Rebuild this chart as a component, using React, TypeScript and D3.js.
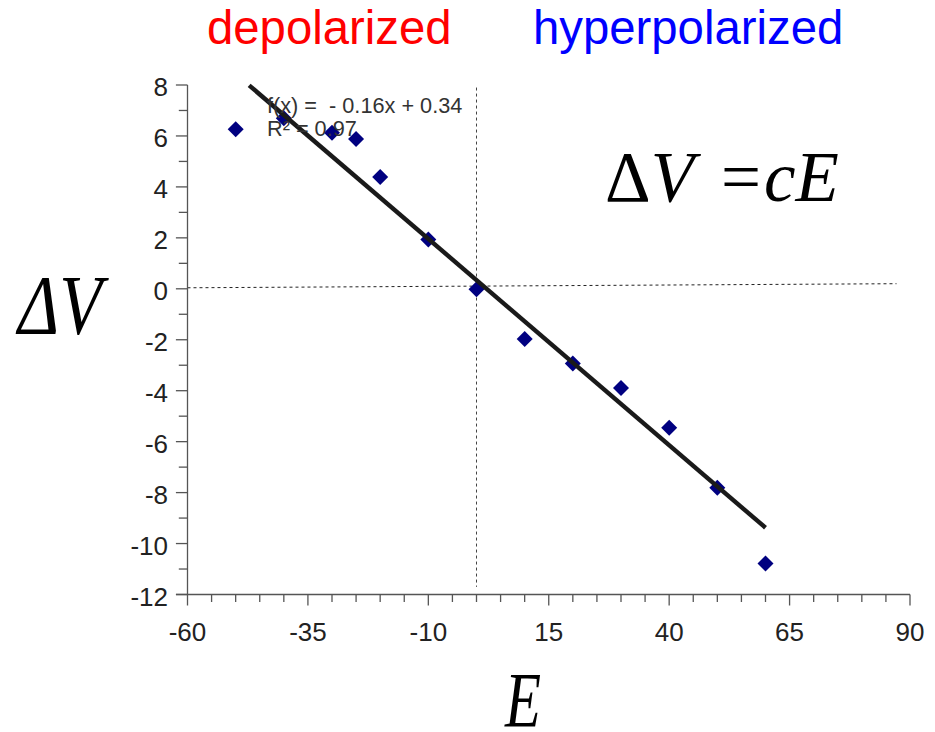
import React, { useEffect } from "react";
import * as d3 from "d3";

// ---- data ----
const membraneE = [-50, -40, -30, -25, -20, -10, 0, 10, 20, 30, 40, 50, 60];
const deltaV = [6.26, 6.69, 6.13, 5.88, 4.39, 1.94, -0.02, -1.97, -2.93, -3.89, -5.45, -7.81, -10.78];
const trendSlope = -0.162;
const trendIntercept = 0.34;
const trendRange = [-47.2, 60];
const xTicks = [-60, -35, -10, 15, 40, 65, 90];
const xMinorTicks = d3.range(-60, 91, 5);
const yTicks = [8, 6, 4, 2, 0, -2, -4, -6, -8, -10, -12];
const yMinorTicks = d3.range(-12, 9, 1);
const hGuide = [[-60, 0.04], [87.2, 0.2]];
const vGuide = [[0, 7.9], [0, -11.7]];
const trendLabel = "f(x) =  - 0.16x + 0.34";
const r2Label = "R² = 0.97";

const W = 935;
const H = 732;

export default function App() {
  useEffect(() => {
    document.body.style.margin = "0";
  }, []);

  const x = d3.scaleLinear().domain([-60, 90]).range([187.5, 910]);
  const y = d3.scaleLinear().domain([-12, 8]).range([594.5, 85]);

  const line = d3
    .line<number[]>()
    .x((d) => x(d[0]))
    .y((d) => y(d[1]));

  const trendPts = trendRange.map((e) => [e, trendSlope * e + trendIntercept]);
  const diamond = (cx: number, cy: number, r: number) =>
    `M${cx},${cy - r}L${cx + r},${cy}L${cx},${cy + r}L${cx - r},${cy}Z`;

  const axisColor = "#555";
  const sans = "'Liberation Sans', Arial, sans-serif";
  const serif = "'Liberation Serif', 'Times New Roman', serif";

  return (
    <svg
      width={W}
      height={H}
      style={{ position: "absolute", left: 0, top: 0, background: "#fff" }}
    >
      {/* titles */}
      <text x={207} y={43.5} fontFamily={sans} fontSize={47.3} fill="#ff0000">
        depolarized
      </text>
      <text x={533} y={43.5} fontFamily={sans} fontSize={47.3} fill="#0000ff">
        hyperpolarized
      </text>

      {/* guides */}
      <path d={line(hGuide) || ""} stroke="#222" strokeWidth={1} strokeDasharray="3,3" fill="none" />
      <path d={line(vGuide) || ""} stroke="#444" strokeWidth={1} strokeDasharray="3,3" fill="none" />

      {/* y axis */}
      <line x1={x(-60)} x2={x(-60)} y1={y(8)} y2={y(-12)} stroke={axisColor} strokeWidth={1.3} />
      {yMinorTicks.map((v) => (
        <line
          key={"ym" + v}
          x1={x(-60) - (v % 2 === 0 ? 11.6 : 8.7)}
          x2={x(-60)}
          y1={y(v)}
          y2={y(v)}
          stroke={axisColor}
          strokeWidth={1.3}
        />
      ))}
      {yTicks.map((v) => (
        <text
          key={"yl" + v}
          x={168}
          y={y(v)}
          dy="0.43em"
          textAnchor="end"
          fontFamily={sans}
          fontSize={26}
          fill="#222"
        >
          {v}
        </text>
      ))}

      {/* x axis */}
      <line x1={176} x2={x(90)} y1={y(-12)} y2={y(-12)} stroke={axisColor} strokeWidth={1.3} />
      {xMinorTicks.map((v) => (
        <line
          key={"xm" + v}
          x1={x(v)}
          x2={x(v)}
          y1={y(-12)}
          y2={y(-12) + ((v + 60) % 25 === 0 ? 11 : 7.5)}
          stroke={axisColor}
          strokeWidth={1.3}
        />
      ))}
      {xTicks.map((v) => (
        <text
          key={"xl" + v}
          x={x(v)}
          y={641}
          textAnchor="middle"
          fontFamily={sans}
          fontSize={26}
          fill="#222"
        >
          {v}
        </text>
      ))}

      {/* points */}
      {membraneE.map((e, i) => (
        <path key={"p" + i} d={diamond(x(e), y(deltaV[i]), 8)} fill="#000080" />
      ))}

      {/* trend line */}
      <path d={line(trendPts) || ""} stroke="#1a1a1a" strokeWidth={4.4} fill="none" />

      {/* regression labels */}
      <text x={267} y={113} fontFamily={sans} fontSize={21.7} fill="#333" style={{ whiteSpace: "pre" }}>
        {trendLabel}
      </text>
      <text x={267} y={136} fontFamily={sans} fontSize={21.7} fill="#333" style={{ whiteSpace: "pre" }}>
        {r2Label}
      </text>

      {/* formula */}
      <text x={605} y={201} fontFamily={serif} fontSize={71} fill="#000">
        <tspan>Δ</tspan>
        <tspan fontStyle="italic">V</tspan>
        <tspan dx={27}>=</tspan>
        <tspan fontStyle="italic" dx={3}>c</tspan>
        <tspan fontStyle="italic">E</tspan>
      </text>

      {/* axis titles */}
      <text
        x={18}
        y={334}
        fontFamily={serif}
        fontStyle="italic"
        fontSize={84}
        textLength={84}
        lengthAdjust="spacingAndGlyphs"
        fill="#000"
      >
        ΔV
      </text>
      <text
        x={505}
        y={726}
        fontFamily={serif}
        fontStyle="italic"
        fontSize={78}
        textLength={36}
        lengthAdjust="spacingAndGlyphs"
        fill="#000"
      >
        E
      </text>
    </svg>
  );
}
